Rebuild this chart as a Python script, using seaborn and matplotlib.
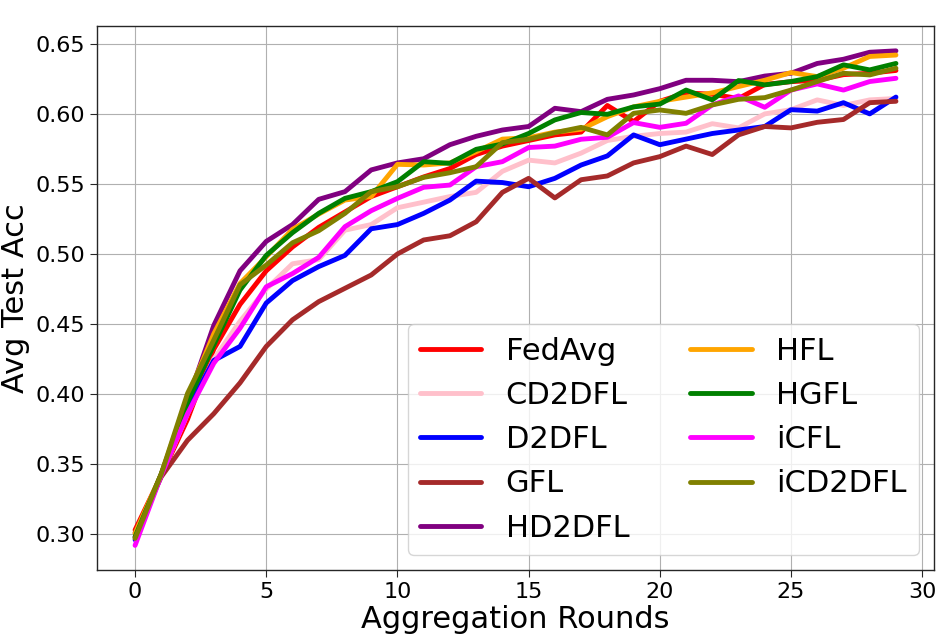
import numpy as np
import pandas as pd
import matplotlib
matplotlib.use("Agg")
import matplotlib.pyplot as plt
import seaborn as sns

rounds = list(range(30))

fedavg = [0.303, 0.342, 0.382, 0.432, 0.464, 0.488, 0.505, 0.519, 0.530, 0.541, 0.548, 0.555, 0.561, 0.571, 0.577,
          0.581, 0.585, 0.587, 0.606, 0.5945, 0.609, 0.615, 0.614, 0.611, 0.621, 0.623, 0.624, 0.628, 0.629, 0.631]
cd2dfl = [0.297, 0.342, 0.386, 0.425, 0.452, 0.475, 0.493, 0.496, 0.517, 0.521, 0.533, 0.537, 0.541, 0.544, 0.559,
          0.567, 0.565, 0.572, 0.581, 0.584, 0.586, 0.587, 0.593, 0.590, 0.600, 0.603, 0.610, 0.606, 0.610, 0.611]
d2dfl = [0.296, 0.342, 0.389, 0.424, 0.434, 0.465, 0.481, 0.491, 0.499, 0.518, 0.521, 0.529, 0.5385, 0.552, 0.551,
         0.548, 0.554, 0.5635, 0.570, 0.585, 0.578, 0.582, 0.586, 0.5885, 0.591, 0.603, 0.602, 0.608, 0.600, 0.612]
gfl = [0.301, 0.341, 0.367, 0.386, 0.408, 0.434, 0.453, 0.466, 0.4755, 0.485, 0.500, 0.510, 0.513, 0.523, 0.544,
       0.554, 0.540, 0.553, 0.5557, 0.565, 0.5695, 0.577, 0.571, 0.585, 0.591, 0.590, 0.594, 0.596, 0.608, 0.609]
hd2dfl = [0.298, 0.343, 0.395, 0.449, 0.488, 0.509, 0.521, 0.539, 0.5445, 0.560, 0.565, 0.568, 0.578, 0.584, 0.5885,
          0.591, 0.604, 0.6016, 0.6104, 0.6135, 0.618, 0.624, 0.624, 0.623, 0.627, 0.629, 0.636, 0.639, 0.644, 0.645]
hfl = [0.3005, 0.343, 0.398, 0.443, 0.479, 0.498, 0.5176, 0.5285, 0.5385, 0.541, 0.564, 0.5635, 0.565, 0.573, 0.582,
       0.583, 0.587, 0.589, 0.598, 0.605, 0.609, 0.612, 0.615, 0.6195, 0.624, 0.6295, 0.6266, 0.6326, 0.641, 0.642]
hgfl = [0.298, 0.343, 0.394, 0.435, 0.4743, 0.499, 0.5152, 0.529, 0.5397, 0.5445, 0.5516, 0.5659, 0.5647, 0.5747, 0.5785,
        0.586, 0.5957, 0.601, 0.5997, 0.605, 0.607, 0.617, 0.610, 0.6238, 0.6207, 0.6231, 0.6266, 0.635, 0.6314, 0.636]
icfl = [0.292, 0.342, 0.386, 0.422, 0.447, 0.4766, 0.486, 0.4976, 0.5195, 0.5309, 0.5397, 0.5476, 0.5492, 0.5623, 0.5659,
        0.576, 0.577, 0.5819, 0.5833, 0.5938, 0.5904, 0.5933, 0.6064, 0.6128, 0.6047, 0.617, 0.6214, 0.617, 0.6231, 0.6254]
icd2dfl = [0.297, 0.343, 0.4005, 0.4386, 0.478, 0.4921, 0.508, 0.5166, 0.529, 0.5445, 0.548, 0.5547, 0.558, 0.5623, 0.5795,
           0.5819, 0.5866, 0.5904, 0.585, 0.6004, 0.6028, 0.6004, 0.6064, 0.6104, 0.6116, 0.617, 0.6231, 0.629, 0.6278, 0.6326]

methods = ["FedAvg", "CD2DFL", "D2DFL", "GFL", "HD2DFL", "HFL", "HGFL", "iCFL", "iCD2DFL"]
series = [fedavg, cd2dfl, d2dfl, gfl, hd2dfl, hfl, hgfl, icfl, icd2dfl]
colors = ["red", "pink", "blue", "brown", "purple", "orange", "green", "magenta", "olive"]
xticks = [0, 5, 10, 15, 20, 25, 30]
yticks = [0.30, 0.35, 0.40, 0.45, 0.50, 0.55, 0.60, 0.65]

df = pd.DataFrame({
    "round": np.tile(rounds, len(methods)),
    "acc": np.concatenate(series),
    "method": np.repeat(methods, len(rounds)),
})

sns.set_style("ticks")
plt.rcParams['font.family'] = ['DejaVu Sans']
plt.rcParams['text.color'] = 'black'
plt.rcParams['axes.labelcolor'] = 'black'
plt.rcParams['xtick.color'] = 'black'
plt.rcParams['ytick.color'] = 'black'

fig, ax = plt.subplots(figsize=(9.42, 6.37), dpi=100)
fig.subplots_adjust(left=0.103, right=0.9915, top=0.959, bottom=0.105)

sns.lineplot(data=df, x="round", y="acc", hue="method", hue_order=methods,
             palette=dict(zip(methods, colors)), linewidth=3.5, ax=ax)

ax.grid(True, color="#b0b0b0", linewidth=0.8)
for s in ax.spines.values():
    s.set_color("#262626")
    s.set_linewidth(1.0)
ax.set_xticks(xticks)
ax.set_yticks(yticks)
ax.set_yticklabels([f"{v:.2f}" for v in yticks])
ax.tick_params(labelsize=16, length=5, color="#262626")
ax.set_xlabel("Aggregation Rounds", fontsize=22, labelpad=2)
ax.set_ylabel("Avg Test Acc", fontsize=22, labelpad=4)

ax.legend(loc="lower right", ncol=2, fontsize=22, handlelength=2.0, columnspacing=2.0,
          frameon=True, fancybox=True, framealpha=0.8)

fig.savefig("out.png", dpi=100)
